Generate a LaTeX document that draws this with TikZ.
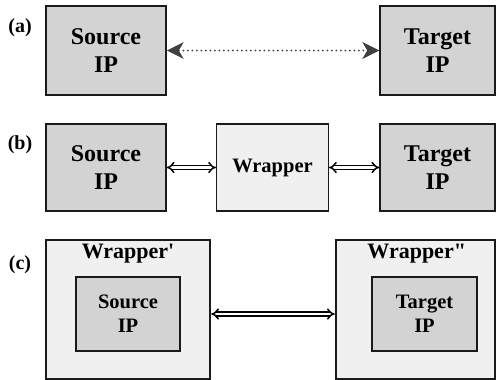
\documentclass[tikz,border=0pt]{standalone}
\usepackage{fontspec}
\setmainfont{Liberation Serif}
\usetikzlibrary{arrows.meta}
\definecolor{ipgray}{HTML}{D3D3D3}
\definecolor{wrapgray}{HTML}{F0F0F0}
\definecolor{edgegray}{HTML}{1A1A1A}
\tikzset{
  ipbox/.style={draw=edgegray, line width=1.5pt, fill=ipgray, align=center, inner sep=0pt,
    font=\fontsize{24}{28}\selectfont\bfseries},
  ipsmall/.style={draw=edgegray, line width=1.5pt, fill=ipgray, align=center, inner sep=0pt,
    font=\fontsize{20.5}{24}\selectfont\bfseries},
  wrapbox/.style={draw=edgegray, line width=1.5pt, fill=wrapgray, align=center, inner sep=0pt,
    font=\fontsize{20.5}{24}\selectfont\bfseries},
  outerbox/.style={draw=edgegray, line width=2.5pt, fill=wrapgray, inner sep=0pt},
  tag/.style={font=\fontsize{20}{24}\selectfont\bfseries, inner sep=0pt},
  wraplabel/.style={font=\fontsize{22}{26}\selectfont\bfseries, inner sep=0pt},
  dotarrow/.style={draw=black!75, line width=2pt, line cap=round, dash pattern=on 0pt off 4.5pt,
    {Stealth[length=17pt,width=17pt,inset=5pt,fill=black!75,line width=0pt]}-{Stealth[length=17pt,width=17pt,inset=5pt,fill=black!75,line width=0pt]}},
  dblarrow/.style={draw=black, line width=1.5pt, double=white, double distance=2.2pt,
    {Implies[length=10pt,width=17pt]}-{Implies[length=10pt,width=17pt]}},
}
\begin{document}
\begin{tikzpicture}[x=1pt,y=-1pt]
\useasboundingbox (0,0) rectangle (496,380);
% (a)
\node[tag] (la) at (20,28) {(a)};
\node[ipbox, minimum width=120pt, minimum height=89pt] (sa) at (106,50.5) {Source\\IP};
\node[ipbox, minimum width=115pt, minimum height=89pt] (ta) at (437.5,50.5) {Target\\IP};
\draw[dotarrow] (sa.east) -- (ta.west);
% (b)
\node[tag] (lb) at (20,145) {(b)};
\node[ipbox, minimum width=120pt, minimum height=87pt] (sb) at (106,167.5) {Source\\IP};
\node[wrapbox, minimum width=111.6pt, minimum height=87pt] (wb) at (272.5,167.5) {Wrapper};
\node[ipbox, minimum width=115pt, minimum height=87pt] (tb) at (437.5,167.5) {Target\\IP};
\draw[dblarrow] (sb.east) -- (wb.west);
\draw[dblarrow] (wb.east) -- (tb.west);
% (c)
\node[tag] (lc) at (20,265) {(c)};
\node[outerbox, minimum width=164pt, minimum height=139pt] (wc1) at (128,309.5) {};
\node[outerbox, minimum width=159pt, minimum height=139pt] (wc2) at (415.5,309.5) {};
\node[wraplabel] (wl1) at (128,254) {Wrapper\textquotesingle};
\node[wraplabel] (wl2) at (416.7,254) {Wrapper\textquotedbl};
\node[ipsmall, minimum width=104pt, minimum height=74pt] (sc) at (128,314) {Source\\IP};
\node[ipsmall, minimum width=105pt, minimum height=74pt] (tc) at (424.5,314) {Target\\IP};
\draw[dblarrow] (wc1.east |- sc.center) -- (wc2.west |- sc.center);
\end{tikzpicture}
\end{document}
